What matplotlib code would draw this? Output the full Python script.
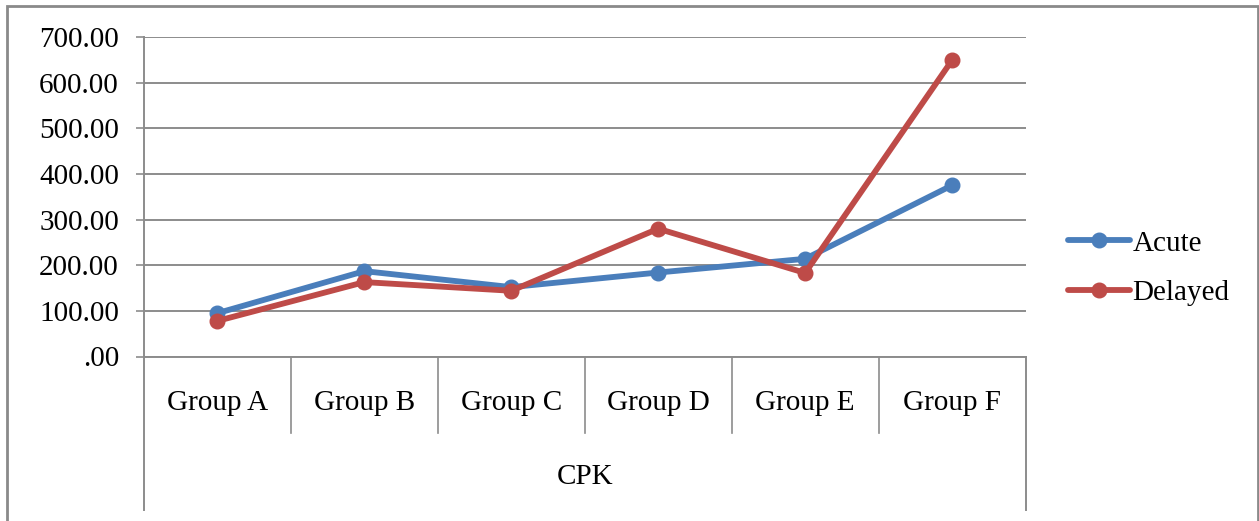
import numpy as np
import matplotlib.pyplot as plt
from matplotlib.patches import Rectangle
from matplotlib.transforms import blended_transform_factory

groups = ["Group A", "Group B", "Group C", "Group D", "Group E", "Group F"]
acute = [95, 187, 152, 184, 214, 375]
delayed = [78, 163, 144, 280, 183, 649]
yticks = [0, 100, 200, 300, 400, 500, 600, 700]
ytick_labels = [".00", "100.00", "200.00", "300.00", "400.00", "500.00", "600.00", "700.00"]
group_title = "CPK"

plt.rcParams['font.family'] = ['Liberation Serif', 'DejaVu Serif']

W, H = 1259, 521
fig = plt.figure(figsize=(W / 100, H / 100), dpi=100)
ax = fig.add_axes([144 / W, 1 - 356.5 / H, (1025.5 - 144) / W, (356.5 - 37) / H])

blue = "#4A7EBB"
red = "#BE4B48"
grid = "#8C8C8C"
fs = 21

x = np.arange(len(groups))
ax.plot(x, acute, color=blue, lw=4.2, marker="o", ms=10.5, label="Acute", zorder=3,
        solid_capstyle="round", clip_on=False)
ax.plot(x, delayed, color=red, lw=4.2, marker="o", ms=10.5, label="Delayed", zorder=4,
        solid_capstyle="round", clip_on=False)

ax.set_xlim(-0.5, len(groups) - 0.5)
ax.set_ylim(0, 700)
ax.set_yticks(yticks)
ax.set_yticklabels(ytick_labels)
ax.yaxis.grid(True, color=grid, lw=1.4)
ax.set_axisbelow(True)
ax.tick_params(axis="y", length=6, width=1.2, color=grid, pad=12, labelsize=fs)

ax.set_xticks(x)
ax.set_xticklabels(groups)
ax.tick_params(axis="x", length=0, pad=24, labelsize=fs)

for side in ["top", "right", "left"]:
    ax.spines[side].set_visible(False)
ax.spines["bottom"].set_color(grid)
ax.spines["bottom"].set_linewidth(1.4)

# category dividers and the outer frame of the two-level axis
tr = blended_transform_factory(ax.transData, ax.transAxes)
low = -(433 - 356.5) / (356.5 - 37)
bottom = -(510 - 356.5) / (356.5 - 37)
for b in np.arange(0.5, len(groups) - 1, 1.0):
    ax.plot([b, b], [0, low], transform=tr, color=grid, lw=1.2, clip_on=False)
for b in [-0.5, len(groups) - 0.5]:
    ax.plot([b, b], [1 if b < 0 else 0, bottom], transform=tr, color=grid, lw=1.4,
            clip_on=False)

ax.text(0.5, -(477 - 356.5) / (356.5 - 37), group_title, transform=ax.transAxes,
        ha="center", va="center", fontsize=fs)

leg = ax.legend(loc="center left", bbox_to_anchor=(1.032, 0.276), frameon=False,
                fontsize=fs, handlelength=2.1, handletextpad=0.1, labelspacing=0.8,
                borderpad=0)

fig.patches.append(Rectangle((7 / W, -0.05), (1258 - 7) / W, 1.05 - 6 / H,
                             transform=fig.transFigure, fill=False,
                             edgecolor="#8A8A8A", lw=2, zorder=10))

fig.savefig("out.png", dpi=100)
